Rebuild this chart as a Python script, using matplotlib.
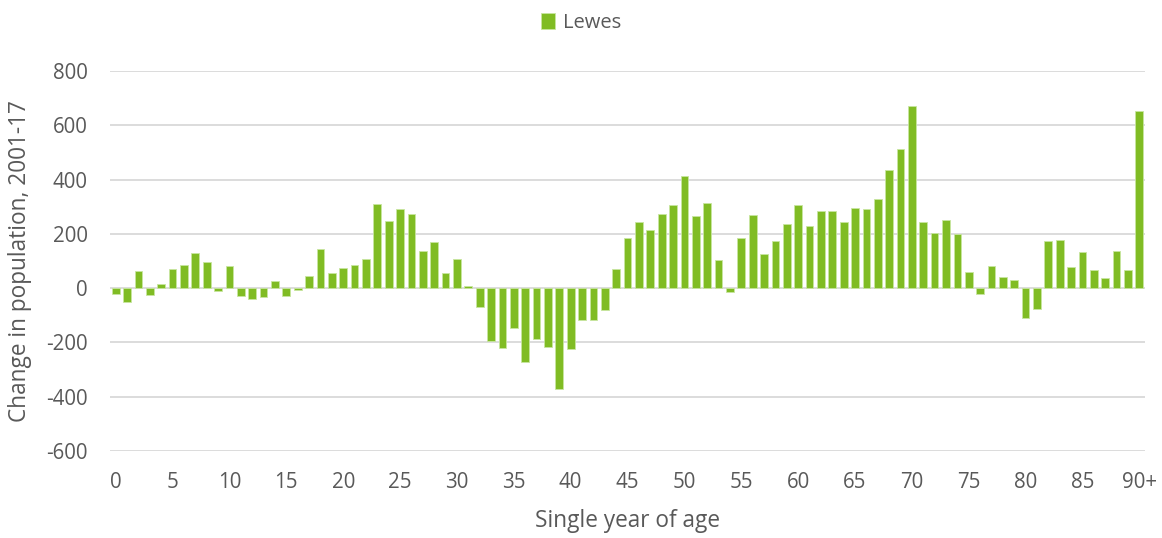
import matplotlib.pyplot as plt
import numpy as np

# Mudança na população por idade, Lewes 2001-17
idades = list(range(91))
mudanca = [-20, -52, 63, -26, 14, 70, 86, 128, 96, -11,
           82, -28, -40, -33, 28, -28, -8, 43, 146, 55,
           75, 86, 109, 311, 247, 291, 273, 136, 170, 55,
           108, 9, -71, -193, -219, -147, -272, -186, -215, -370,
           -225, -119, -116, -80, 72, 186, 245, 213, 273, 308,
           413, 265, 312, 103, -14, 184, 268, 125, 173, 237,
           305, 229, 284, 284, 243, 296, 292, 329, 436, 514,
           672, 242, 204, 252, 199, 60, -22, 82, 42, 29,
           -109, -77, 174, 177, 77, 135, 68, 38, 136, 68,
           651]
posicoes_ticks = list(range(0, 91, 5))
rotulos_ticks = [str(i) for i in range(0, 90, 5)] + ['90+']

plt.rcParams['font.family'] = ['Open Sans', 'DejaVu Sans']
plt.rcParams['axes.unicode_minus'] = False
cinza = '#595959'
verde = '#80BC24'

fig = plt.figure(figsize=(11.62, 5.38), dpi=100)
ax = fig.add_axes([0.0947, 0.1617, 0.8907, 0.7063])

ax.bar(idades, mudanca, width=0.68, color=verde, edgecolor='#c8e6a0',
       linewidth=0.6, label='Lewes', zorder=3)

ax.set_xlim(-0.5, 90.5)
ax.set_ylim(-600, 800)
ax.set_yticks(range(-600, 801, 200))
ax.set_xticks(posicoes_ticks)
ax.set_xticklabels(rotulos_ticks)
ax.tick_params(axis='both', length=0, labelsize=14.8, labelcolor=cinza)
ax.tick_params(axis='x', pad=15)
ax.tick_params(axis='y', pad=16)
ax.grid(axis='y', color='#d9d9d9', linewidth=1.3, zorder=0)
for s in ax.spines.values():
    s.set_visible(False)

# Rótulos dos eixos
ax.set_xlabel('Single year of age', fontsize=16.3, color=cinza, va='center')
ax.set_ylabel('Change in population, 2001-17', fontsize=16.3, color=cinza, va='center')
ax.xaxis.set_label_coords(0.5, -0.183)
ax.yaxis.set_label_coords(-0.087, 0.5)

fig.legend(loc='upper center', bbox_to_anchor=(0.5, 1.01), frameon=False,
           fontsize=14.5, labelcolor=cinza, handlelength=0.7, handleheight=0.9,
           handletextpad=0.4)

fig.savefig('out.png', dpi=100)
